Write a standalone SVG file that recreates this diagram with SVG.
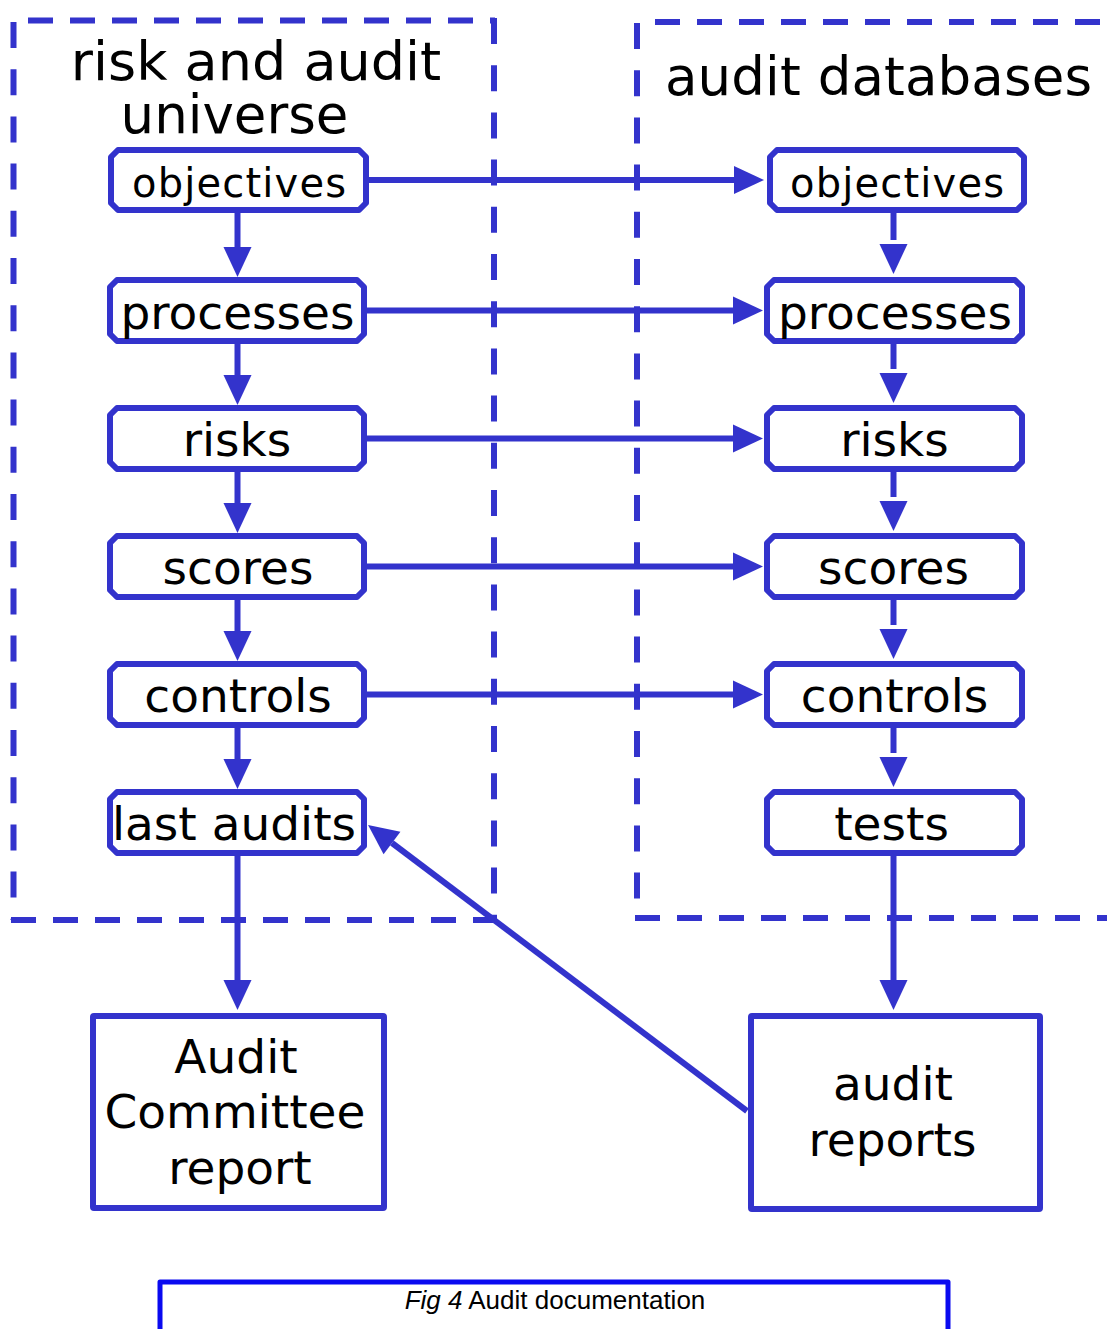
<svg xmlns="http://www.w3.org/2000/svg" width="1107" height="1329" viewBox="0 0 1107 1329">
<style>
.bg{fill:#ffffff}
.dh{fill:none;stroke:#3333cc;stroke-width:6;stroke-dasharray:25 17}
.dv{fill:none;stroke:#3333cc;stroke-width:6;stroke-dasharray:26 21.2}
.node{fill:#ffffff;stroke:#3333cc;stroke-width:6;stroke-linejoin:round}
.box{fill:#ffffff;stroke:#3333cc;stroke-width:6;stroke-linejoin:round}
.conn{fill:none;stroke:#3333cc;stroke-width:6}
.t{font-family:"DejaVu Sans","Verdana",sans-serif;fill:#000000;text-anchor:middle}
.n{font-size:47px}
.h{font-size:54px}
.cap{font-family:"Liberation Sans",Arial,sans-serif;font-size:26px;fill:#000000;text-anchor:middle}
</style>
<defs>
<marker id="ah" markerUnits="userSpaceOnUse" markerWidth="30" markerHeight="28" refX="0" refY="14" orient="auto" overflow="visible">
<path d="M0,0 L30,14 L0,28 z" fill="#3333cc"/>
</marker>
<marker id="ahg" markerUnits="userSpaceOnUse" markerWidth="34" markerHeight="28" refX="-4" refY="14" orient="auto" overflow="visible">
<path d="M0,0 L30,14 L0,28 z" fill="#3333cc"/>
</marker>
</defs>
<rect class="bg" x="0" y="0" width="1107" height="1329"/>

<g id="container-left">
<line class="dh" x1="28" y1="20.5" x2="495" y2="20.5"/>
<line class="dh" x1="11" y1="920" x2="495" y2="920"/>
<line class="dv" x1="13.5" y1="22" x2="13.5" y2="920"/>
<line class="dv" x1="494" y1="18" x2="494" y2="920"/>
<text class="t h" x="256" y="80">risk and audit</text>
<text class="t" font-size="53" x="234.5" y="133">universe</text>
</g>

<g id="container-right">
<line class="dh" x1="655" y1="22" x2="1107" y2="22"/>
<line class="dh" x1="635" y1="918" x2="1107" y2="918"/>
<line class="dv" x1="637" y1="23" x2="637" y2="918"/>
<text class="t" font-size="53" x="878.5" y="95" textLength="427">audit databases</text>
</g>

<g id="connectors">
<line class="conn" x1="237.5" y1="210" x2="237.5" y2="247" marker-end="url(#ah)"/>
<line class="conn" x1="237.5" y1="341" x2="237.5" y2="375" marker-end="url(#ah)"/>
<line class="conn" x1="237.5" y1="469" x2="237.5" y2="503" marker-end="url(#ah)"/>
<line class="conn" x1="237.5" y1="597" x2="237.5" y2="631" marker-end="url(#ah)"/>
<line class="conn" x1="237.5" y1="725" x2="237.5" y2="759" marker-end="url(#ah)"/>
<line class="conn" x1="237.5" y1="853" x2="237.5" y2="980" marker-end="url(#ah)"/>
<line class="conn" x1="893.5" y1="210" x2="893.5" y2="240" marker-end="url(#ahg)"/>
<line class="conn" x1="893.5" y1="341" x2="893.5" y2="369" marker-end="url(#ahg)"/>
<line class="conn" x1="893.5" y1="469" x2="893.5" y2="497" marker-end="url(#ahg)"/>
<line class="conn" x1="893.5" y1="597" x2="893.5" y2="625" marker-end="url(#ahg)"/>
<line class="conn" x1="893.5" y1="725" x2="893.5" y2="753" marker-end="url(#ahg)"/>
<line class="conn" x1="893.5" y1="853" x2="893.5" y2="980" marker-end="url(#ah)"/>
<line class="conn" x1="367" y1="180" x2="734" y2="180" marker-end="url(#ah)"/>
<line class="conn" x1="367" y1="310.5" x2="733" y2="310.5" marker-end="url(#ah)"/>
<line class="conn" x1="367" y1="438.5" x2="733" y2="438.5" marker-end="url(#ah)"/>
<line class="conn" x1="367" y1="566.5" x2="733" y2="566.5" marker-end="url(#ah)"/>
<line class="conn" x1="367" y1="694.5" x2="733" y2="694.5" marker-end="url(#ah)"/>
<line class="conn" x1="747" y1="1111" x2="392" y2="843" marker-end="url(#ah)"/>
</g>

<g id="l-objectives"><polygon class="node" points="118,150 359,150 366,157 366,203 359,210 118,210 111,203 111,157"/><text class="t" font-size="40" x="239" y="197" textLength="214">objectives</text></g>
<g id="l-processes"><polygon class="node" points="117,280 357,280 364,287 364,334 357,341 117,341 110,334 110,287"/><text class="t n" x="237.5" y="329">processes</text></g>
<g id="l-risks"><polygon class="node" points="117,408 357,408 364,415 364,462 357,469 117,469 110,462 110,415"/><text class="t n" x="237" y="456">risks</text></g>
<g id="l-scores"><polygon class="node" points="117,536 357,536 364,543 364,590 357,597 117,597 110,590 110,543"/><text class="t n" x="238" y="584">scores</text></g>
<g id="l-controls"><polygon class="node" points="117,664 357,664 364,671 364,718 357,725 117,725 110,718 110,671"/><text class="t n" x="238" y="712">controls</text></g>
<g id="l-last-audits"><polygon class="node" points="117,792 357,792 364,799 364,846 357,853 117,853 110,846 110,799"/><text class="t n" x="234" y="840">last audits</text></g>

<g id="r-objectives"><polygon class="node" points="777,150 1017,150 1024,157 1024,203 1017,210 777,210 770,203 770,157"/><text class="t" font-size="40" x="897" y="197" textLength="214">objectives</text></g>
<g id="r-processes"><polygon class="node" points="774,280 1015,280 1022,287 1022,334 1015,341 774,341 767,334 767,287"/><text class="t n" x="895" y="329">processes</text></g>
<g id="r-risks"><polygon class="node" points="774,408 1015,408 1022,415 1022,462 1015,469 774,469 767,462 767,415"/><text class="t n" x="894.5" y="456">risks</text></g>
<g id="r-scores"><polygon class="node" points="774,536 1015,536 1022,543 1022,590 1015,597 774,597 767,590 767,543"/><text class="t n" x="893.5" y="584">scores</text></g>
<g id="r-controls"><polygon class="node" points="774,664 1015,664 1022,671 1022,718 1015,725 774,725 767,718 767,671"/><text class="t n" x="894.5" y="712">controls</text></g>
<g id="r-tests"><polygon class="node" points="774,792 1015,792 1022,799 1022,846 1015,853 774,853 767,846 767,799"/><text class="t n" x="891.5" y="840">tests</text></g>

<g id="audit-committee-report"><rect class="box" x="93" y="1016" width="291" height="192" rx="1"/>
<text class="t n" x="236" y="1073">Audit</text>
<text class="t n" x="235" y="1128">Committee</text>
<text class="t n" x="240" y="1184">report</text></g>

<g id="audit-reports"><rect class="box" x="751" y="1016" width="289" height="193" rx="1"/>
<text class="t n" x="893" y="1100">audit</text>
<text class="t n" x="892.5" y="1156">reports</text></g>

<g id="caption">
<path d="M160,1332 L160,1282 L948,1282 L948,1332" fill="none" stroke="#0a0af0" stroke-width="5" stroke-linejoin="round"/>
<text class="cap" x="555" y="1309"><tspan font-style="italic">Fig 4</tspan> Audit documentation</text>
</g>
</svg>
